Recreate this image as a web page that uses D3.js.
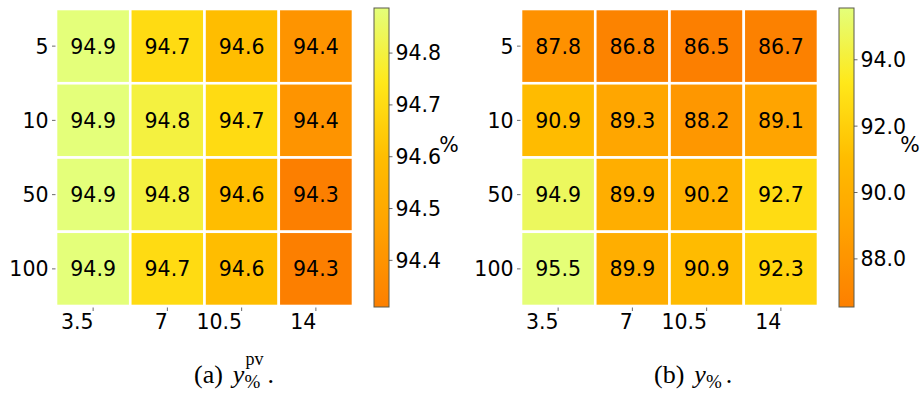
<!DOCTYPE html>
<html><head><meta charset="utf-8">
<script src="https://cdn.jsdelivr.net/npm/d3@7"></script>
<style>body{margin:0;background:#fff} svg{display:block}</style>
</head><body><svg id="chart" width="920" height="400"></svg>
<script>
// Grid labels
const rowLabels = ["5", "10", "50", "100"];
const colLabels = ["3.5", "7", "10.5", "14"];

// Panel (a): y%^pv
const valuesPv = [
  [94.9, 94.7, 94.6, 94.4],
  [94.9, 94.8, 94.7, 94.4],
  [94.9, 94.8, 94.6, 94.3],
  [94.9, 94.7, 94.6, 94.3]
];
// Panel (b): y%
const valuesPct = [
  [87.8, 86.8, 86.5, 86.7],
  [90.9, 89.3, 88.2, 89.1],
  [94.9, 89.9, 90.2, 92.7],
  [95.5, 89.9, 90.9, 92.3]
];

// Colour-bar extents and ticks
const rangePv = [94.31, 94.887];
const rangePct = [86.55, 95.56];
const ticksPv = [94.4, 94.5, 94.6, 94.7, 94.8];
const ticksPct = [88.0, 90.0, 92.0, 94.0];

// Wistia colour stops (reversed map: high values are pale)
const wistia = ["#e4ff7a", "#ffe81a", "#ffbd00", "#ffa000", "#fc7f00"];

const svg = d3.select("#chart");
const FONT = "'DejaVu Sans', sans-serif";
const FS = 20.5;

function makeColor(range) {
  const t = d3.scaleLinear().domain(range).range([1, 0]).clamp(true);
  const c = d3.scaleLinear().domain([0, 0.25, 0.5, 0.75, 1]).range(wistia).interpolate(d3.interpolateRgb);
  return v => c(t(v));
}

function panel(opts) {
  const { values, range, ticks, hx0, hx1, hy0, hy1, cbx, cbw, unitX, id } = opts;
  const color = makeColor(range);
  const g = svg.append("g");

  const x = d3.scaleBand().domain(colLabels).range([hx0, hx1]);
  const y = d3.scaleBand().domain(rowLabels).range([hy0, hy1]);

  const cells = [];
  values.forEach((row, i) => row.forEach((v, j) => cells.push({ r: rowLabels[i], c: colLabels[j], v })));

  g.selectAll("rect.cell").data(cells).join("rect")
    .attr("class", "cell")
    .attr("x", d => x(d.c)).attr("y", d => y(d.r))
    .attr("width", x.bandwidth()).attr("height", y.bandwidth())
    .attr("fill", d => color(d.v))
    .attr("stroke", "#fff").attr("stroke-width", 2.6);

  g.selectAll("text.val").data(cells).join("text")
    .attr("class", "val")
    .attr("x", d => x(d.c) + x.bandwidth() / 2)
    .attr("y", d => y(d.r) + y.bandwidth() / 2)
    .attr("dy", "0.36em")
    .attr("text-anchor", "middle")
    .style("font-family", FONT).style("font-size", FS + "px")
    .attr("fill", "#000")
    .text(d => d.v.toFixed(1));

  // y axis ticks and labels
  const yt = g.append("g");
  rowLabels.forEach(r => {
    const cy = y(r) + y.bandwidth() / 2;
    yt.append("line").attr("x1", hx0 - 4).attr("x2", hx0 - 0.5).attr("y1", cy).attr("y2", cy)
      .attr("stroke", "#444").attr("stroke-width", 0.8);
    yt.append("text").attr("x", hx0 - 7.5).attr("y", cy).attr("dy", "0.36em")
      .attr("text-anchor", "end").style("font-family", FONT).style("font-size", FS + "px").text(r);
  });

  // x axis ticks and labels (right-aligned to the tick)
  const xt = g.append("g");
  colLabels.forEach(c => {
    const cx = x(c) + x.bandwidth() / 2;
    xt.append("line").attr("x1", cx).attr("x2", cx).attr("y1", hy1 + 1.5).attr("y2", hy1 + 5)
      .attr("stroke", "#444").attr("stroke-width", 0.8);
    xt.append("text").attr("x", cx + 0.5).attr("y", hy1 + 23)
      .attr("text-anchor", "end").style("font-family", FONT).style("font-size", FS + "px").text(c);
  });

  // colour bar
  const cbY = d3.scaleLinear().domain(range).range([hy1 + 1, hy0 - 1]);
  const gradId = "grad-" + id;
  const grad = svg.append("defs").append("linearGradient").attr("id", gradId)
    .attr("x1", 0).attr("x2", 0).attr("y1", 1).attr("y2", 0);
  d3.range(0, 1.0001, 0.05).forEach(s => {
    const v = range[0] + s * (range[1] - range[0]);
    grad.append("stop").attr("offset", s).attr("stop-color", color(v));
  });
  g.append("rect").attr("x", cbx).attr("y", cbY.range()[1]).attr("width", cbw)
    .attr("height", cbY.range()[0] - cbY.range()[1])
    .attr("fill", `url(#${gradId})`).attr("stroke", "#5a5a4a").attr("stroke-width", 1);

  const cb = g.append("g");
  ticks.forEach(t => {
    const ty = cbY(t);
    cb.append("line").attr("x1", cbx + cbw).attr("x2", cbx + cbw + 3.5).attr("y1", ty).attr("y2", ty)
      .attr("stroke", "#444").attr("stroke-width", 0.8);
    cb.append("text").attr("x", cbx + cbw + 6.5).attr("y", ty).attr("dy", "0.36em")
      .style("font-family", FONT).style("font-size", FS + "px").text(t.toFixed(1));
  });
  g.append("text").attr("x", unitX).attr("y", 145).attr("dy", "0.36em")
    .attr("text-anchor", "middle").style("font-family", FONT).style("font-size", FS + "px").text("%");
}

panel({ values: valuesPv, range: rangePv, ticks: ticksPv, hx0: 56, hx1: 353, hy0: 9, hy1: 306,
        cbx: 374, cbw: 15, unitX: 449, id: "pv" });
panel({ values: valuesPct, range: rangePct, ticks: ticksPct, hx0: 521, hx1: 818, hy0: 9, hy1: 306,
        cbx: 839, cbw: 15, unitX: 910, id: "pct" });

// Captions with math-style sub/superscripts
const SERIF = "'Liberation Serif', 'DejaVu Serif', serif";
function caption(x0, base, tag, sup) {
  const g = svg.append("g").style("font-family", SERIF).attr("fill", "#000");
  const t1 = g.append("text").attr("x", x0).attr("y", base).style("font-size", "26px").text(tag);
  let x = x0 + t1.node().getComputedTextLength() + 10;
  const ty = g.append("text").attr("x", x).attr("y", base).style("font-size", "26px").style("font-style", "italic").text("y");
  x += ty.node().getComputedTextLength();
  let end = x;
  if (sup) {
    const ts = g.append("text").attr("x", x + 1).attr("y", base - 18).style("font-size", "18px").text(sup);
    end = Math.max(end, x + 1 + ts.node().getComputedTextLength());
  }
  const tb = g.append("text").attr("x", x).attr("y", base + 5).style("font-size", "19px").text("%");
  end = Math.max(end, x + tb.node().getComputedTextLength());
  g.append("text").attr("x", end + 4).attr("y", base).style("font-size", "26px").text(".");
}
caption(194, 383, "(a)", "pv");
caption(654, 383, "(b)", null);
</script>
</body></html>
